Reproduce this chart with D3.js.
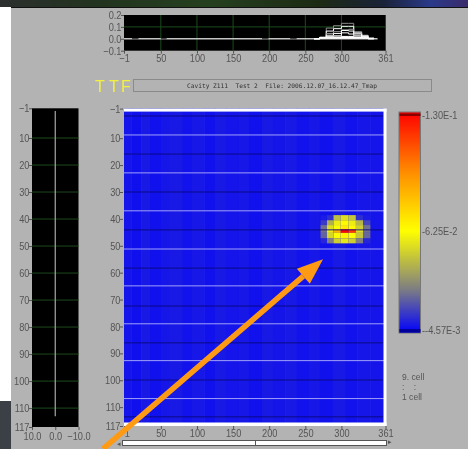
<!DOCTYPE html>
<html><head><meta charset="utf-8">
<script src="https://cdn.jsdelivr.net/npm/d3@7"></script>
<style>
html,body{margin:0;padding:0;background:#fff;overflow:hidden}
svg{display:block;filter:blur(0.45px)}
text{font-family:"Liberation Sans",sans-serif;fill:#555;white-space:pre}
.axis path{display:none}
.axis line{stroke:#555}
.axis text{font-size:11px;fill:#555}
</style></head><body>
<script>
// ---- data ----
const xTicks = [-1, 50, 100, 150, 200, 250, 300, 361];
const yTicks = [-1, 10, 20, 30, 40, 50, 60, 70, 80, 90, 100, 110, 117];
const topYTicks = [0.2, 0.1, 0.0, -0.1];
const sideTicks = [10, 0, -10];
const colorDomain = [0.00457, 0.030, 0.0625, 0.095, 0.130];
const colorRange = ["#0000ff", "#808080", "#ffff00", "#ff9000", "#ff0000"];
const barLabels = [["-1.30E-1", 0.130], ["-6.25E-2", 0.0625], ["--4.57E-3", 0.00457]];
const stripeEdges = [-1,9,23,35,50,62,80,93,110,125,140,158,172,190,205,222,238,255,270,288,305,322,340,361];
const stripeValues = [.0085,.0078,.0095,.0080,.0090,.0096,.0082,.0092,.0080,.0095,.0085,.0092,.0080,.0095,.0088,.0096,.0082,.0092,.0080,.0095,.0082,.0090,.0085];
const spotColEdges = [271, 280, 289, 299, 310, 320, 330, 340];
const spotRowEdges = [38.6, 40.5, 42.3, 43.9, 45.2, 47.3, 49.1];
const spotValues = [
 [.010,.014,.046,.054,.048,.014,.010],
 [.016,.042,.058,.064,.058,.044,.018],
 [.027,.054,.062,.068,.064,.050,.027],
 [.027,.058,.085,.128,.115,.054,.027],
 [.024,.052,.062,.066,.062,.048,.025],
 [.012,.030,.050,.056,.050,.030,.012]
];
const whiteRows = [8.8, 22.9, 37, 51.2, 64.9, 79, 92.7, 106.8];
const blackRows = [1.75, 15.9, 30, 44.1, 58.3, 72.4, 86.1, 99.9, 113.6];
const stepEdges = [262, 270, 279, 289, 300, 310, 317, 328, 337, 345];
const stepSeries = [
 {shade: "#8a8a8a", values: [0, .012, .09, .11, .13, .13, .06, .03, .005]},
 {shade: "#ffffff", values: [0, .012, .065, .085, .105, .105, .05, .025, .005]},
 {shade: "#9a9a9a", values: [0, .010, .045, .06, .075, .08, .045, .02, .005]},
 {shade: "#ffffff", values: [0, .010, .03, .045, .07, .065, .04, .018, .003]},
 {shade: "#ffffff", values: [0, .012, .018, .025, .05, .04, .025, .012, 0]},
 {shade: "#ffffff", values: [0, .010, .012, .015, .02, .02, .015, .008, 0]}
];
const baseGapStarts = [10, 50, 190, 229];
const baseGapEnds = [19, 58, 199, 238];
const cellLabels = ["9. cell", ":    :", "1 cell"];
const titleText = "Cavity Z111  Test 2  File: 2006.12.07_16.12.47_Tmap";
const ttfLetters = ["T", "T", "F"];
const ttfOffsets = [0, 14, 26];
const arrowTail = [-30, 125.5];
const arrowTip = [274.5, 55];

// ---- layout ----
const W = 468, H = 449;
const svg = d3.select("body").append("svg").attr("width", W).attr("height", H);
const defs = svg.append("defs");

const x = d3.scaleLinear().domain([-1, 361]).range([124, 385.5]);
const y = d3.scaleLinear().domain([-1, 117]).range([108.6, 426]);
const yTop = d3.scaleLinear().domain([0.2, -0.1]).range([15, 50.7]);
const ySide = d3.scaleLinear().domain([-1, 117]).range([108.3, 427]);
const xSide = d3.scaleLinear().domain([10, -10]).range([32, 78.5]);
const color = d3.scaleLinear().domain(colorDomain).range(colorRange);
const yBar = d3.scaleLinear().domain([0.00457, 0.130]).range([330, 115]);
const narrow = sel => sel.selectAll("text").attr("transform", "scale(0.84,1)").style("font-size", "11px");

// page backdrop
const g = defs.append("linearGradient").attr("id", "banner");
[[0,"#2c2f2e"],[.2,"#22331f"],[.45,"#25401f"],[.68,"#1c2a14"],[.82,"#1a2238"],[.92,"#2a3a8a"],[1,"#3a2a6a"]]
  .forEach(s => g.append("stop").attr("offset", s[0]).attr("stop-color", s[1]));
svg.append("rect").attr("x", 11).attr("y", 8).attr("width", W - 11).attr("height", H - 8).attr("fill", "#b3b3b3");
svg.append("rect").attr("width", W).attr("height", 7).attr("fill", "url(#banner)");
svg.append("rect").attr("x", 11).attr("y", 7).attr("width", W - 11).attr("height", 1).attr("fill", "#111");
svg.append("rect").attr("x", 0).attr("y", 401).attr("width", 11).attr("height", 48).attr("fill", "#3b4046");

// top strip chart
svg.append("rect").attr("x", x(-1)).attr("y", yTop(.2)).attr("width", x(361) - x(-1)).attr("height", yTop(-.1) - yTop(.2)).attr("fill", "#000");
const grid = "#1c4a1c";
svg.append("g").selectAll("line").data(xTicks.slice(1, -1).concat([361])).join("line")
  .attr("x1", d => x(d)).attr("x2", d => x(d)).attr("y1", yTop(.2)).attr("y2", yTop(-.1)).attr("stroke", grid);
svg.append("g").selectAll("line").data(topYTicks.slice(1, 2)).join("line")
  .attr("x1", x(-1)).attr("x2", x(361)).attr("y1", d => yTop(d)).attr("y2", d => yTop(d)).attr("stroke", grid);
svg.append("line").attr("x1", x(-1)).attr("x2", x(350)).attr("y1", yTop(0)).attr("y2", yTop(0)).attr("stroke", "#c4c4c4").attr("stroke-width", 1.6);
svg.append("g").selectAll("line").data(baseGapStarts).join("line")
  .attr("x1", d => x(d)).attr("x2", (d, i) => x(baseGapEnds[i])).attr("y1", yTop(0)).attr("y2", yTop(0)).attr("stroke", "#444").attr("stroke-width", 1.6);
const stepLine = d3.line().curve(d3.curveStepAfter).x(d => x(d[0])).y(d => yTop(d[1]));
stepSeries.forEach(s => {
  const pts = s.values.map((v, i) => [stepEdges[i], v]).concat([[stepEdges[stepEdges.length - 1], 0]]);
  svg.append("path").attr("d", stepLine(pts)).attr("fill", "none").attr("stroke", s.shade).attr("stroke-width", 1);
});
const lastWhite = stepSeries[stepSeries.length - 1];
svg.append("path").attr("d", d3.area().curve(d3.curveStepAfter).x(d => x(d[0])).y0(yTop(0)).y1(d => yTop(d[1]))(lastWhite.values.map((v, i) => [stepEdges[i], v]).concat([[stepEdges[stepEdges.length - 1], 0]]))).attr("fill", "#fff");

svg.append("g").attr("class", "axis").attr("transform", `translate(0,${yTop(-.1)})`)
  .call(d3.axisBottom(x).tickValues(xTicks).tickSize(3).tickPadding(1).tickFormat(d3.format("d"))).call(narrow);
svg.append("g").attr("class", "axis").attr("transform", `translate(${x(-1)},0)`)
  .call(d3.axisLeft(yTop).tickValues(topYTicks).tickSize(3).tickPadding(0).tickFormat(d3.format(".1f"))).call(narrow);

// title row
svg.append("g").selectAll("text").data(ttfLetters).join("text")
  .attr("x", (d, i) => 100 + ttfOffsets[i]).attr("y", 92).attr("text-anchor", "middle")
  .style("font-family", "'Liberation Sans',sans-serif").style("font-size", "16px").style("fill", "#f4f040").text(d => d);
svg.append("rect").attr("x", 133.5).attr("y", 79.5).attr("width", 298).attr("height", 12)
  .attr("fill", "#b3b3b3").attr("stroke", "#8a8a8a");
svg.append("text").attr("x", 282).attr("y", 87.5).attr("text-anchor", "middle")
  .style("font-family", "'DejaVu Sans Mono',monospace").style("font-size", "6.2px").style("fill", "#333").text(titleText);

// left side panel
svg.append("rect").attr("x", xSide(10)).attr("y", ySide(-1)).attr("width", xSide(-10) - xSide(10)).attr("height", ySide(117) - ySide(-1)).attr("fill", "#000");
svg.append("g").selectAll("line").data(yTicks.slice(1, -1)).join("line")
  .attr("x1", xSide(10)).attr("x2", xSide(-10)).attr("y1", d => ySide(d)).attr("y2", d => ySide(d)).attr("stroke", grid);
svg.append("line").attr("x1", xSide(0)).attr("x2", xSide(0)).attr("y1", ySide(0)).attr("y2", ySide(113)).attr("stroke", "#a8a8a8").attr("stroke-width", 1.2);
svg.append("g").attr("class", "axis").attr("transform", `translate(${xSide(10)},0)`)
  .call(d3.axisLeft(ySide).tickValues(yTicks).tickSize(3).tickPadding(0).tickFormat(d3.format("d"))).call(narrow);
svg.append("g").attr("class", "axis").attr("transform", `translate(0,${ySide(117)})`)
  .call(d3.axisBottom(xSide).tickValues(sideTicks).tickSize(3).tickPadding(2.5).tickFormat(d3.format(".1f"))).call(narrow);

// heat map
const heat = svg.append("g");
heat.selectAll("rect.stripe").data(stripeValues).join("rect").attr("class", "stripe")
  .attr("x", (d, i) => x(stripeEdges[i])).attr("width", (d, i) => x(stripeEdges[i + 1]) - x(stripeEdges[i]) + .5)
  .attr("y", y(-1)).attr("height", y(117) - y(-1)).attr("fill", d => color(d));
spotValues.forEach((row, r) => {
  heat.append("g").selectAll("rect").data(row).join("rect")
    .attr("x", (d, c) => x(spotColEdges[c]))
    .attr("width", (d, c) => x(spotColEdges[c + 1]) - x(spotColEdges[c]))
    .attr("y", y(spotRowEdges[r])).attr("height", y(spotRowEdges[r + 1]) - y(spotRowEdges[r]))
    .attr("fill", d => color(d));
});
heat.append("g").selectAll("line").data(whiteRows).join("line")
  .attr("x1", x(-1)).attr("x2", x(361)).attr("y1", d => y(d)).attr("y2", d => y(d)).attr("stroke", "#a0a0fa").attr("stroke-width", 1);
heat.append("g").selectAll("line").data(blackRows).join("line")
  .attr("x1", x(-1)).attr("x2", x(361)).attr("y1", d => y(d)).attr("y2", d => y(d)).attr("stroke", "#08086a").attr("stroke-width", .8);
// white border slabs: top, bottom, right
svg.append("rect").attr("x", x(-1)).attr("y", y(-1)).attr("width", x(361) - x(-1) + 1).attr("height", 3).attr("fill", "#fff");
svg.append("rect").attr("x", x(-1)).attr("y", y(117) - 3.5).attr("width", x(361) - x(-1) + 1).attr("height", 3.5).attr("fill", "#fff");
svg.append("rect").attr("x", x(361) - 2).attr("y", y(-1)).attr("width", 3).attr("height", y(117) - y(-1)).attr("fill", "#fff");

svg.append("g").attr("class", "axis").attr("transform", `translate(0,${y(117)})`)
  .call(d3.axisBottom(x).tickValues(xTicks).tickSize(3).tickPadding(0).tickFormat(d3.format("d"))).call(narrow);
svg.append("g").attr("class", "axis").attr("transform", `translate(${x(-1) - 1},0)`)
  .call(d3.axisLeft(y).tickValues(yTicks).tickSize(3).tickPadding(0).tickFormat(d3.format("d"))).call(narrow);

// scroll bar under the map
svg.append("rect").attr("x", 122.5).attr("y", 440.5).attr("width", 264).attr("height", 5).attr("fill", "#fff").attr("stroke", "#555");
svg.append("line").attr("x1", 255.5).attr("x2", 255.5).attr("y1", 440).attr("y2", 446).attr("stroke", "#555");
svg.append("text").attr("x", 117).attr("y", 446).style("font-size", "7px").text("◂");
svg.append("text").attr("x", 388).attr("y", 444).style("font-size", "7px").text("▸");

// colour bar
const barDomain = d3.range(0, 1.0001, 0.02).map(t => colorDomain[0] + t * (colorDomain[4] - colorDomain[0]));
const bg = defs.append("linearGradient").attr("id", "bar").attr("x1", 0).attr("x2", 0).attr("y1", 1).attr("y2", 0);
barDomain.forEach((v, i) => bg.append("stop").attr("offset", i / (barDomain.length - 1)).attr("stop-color", color(v)));
svg.append("rect").attr("x", 399).attr("y", yBar(.130) - 3).attr("width", 21.5).attr("height", yBar(.00457) - yBar(.130) + 6).attr("fill", "url(#bar)").attr("stroke", "#777");
svg.append("rect").attr("x", 399.5).attr("y", yBar(.130) - 1.5).attr("width", 21).attr("height", 2.5).attr("fill", "#8a0000");
svg.append("rect").attr("x", 399.5).attr("y", yBar(.00457) - 1).attr("width", 21).attr("height", 3.5).attr("fill", "#00009a");
svg.append("g").selectAll("text").data(barLabels).join("text")
  .attr("transform", d => `translate(422,${yBar(d[1]) + 4}) scale(0.84,1)`).style("font-size", "11px").text(d => d[0]);

// cell labels
svg.append("g").selectAll("text").data(cellLabels).join("text")
  .attr("transform", (d, i) => `translate(402,${380 + i * 10}) scale(0.95,1)`).style("font-size", "9px").text(d => d);

// annotation arrow
const tip = [x(arrowTip[0]), y(arrowTip[1])], tail = [x(arrowTail[0]), y(arrowTail[1])];
const ang = Math.atan2(tip[1] - tail[1], tip[0] - tail[0]);
const headLen = 26, headHalf = 10;
const base = [tip[0] - headLen * Math.cos(ang), tip[1] - headLen * Math.sin(ang)];
svg.append("line").attr("x1", tail[0]).attr("y1", tail[1]).attr("x2", base[0]).attr("y2", base[1])
  .attr("stroke", "#ff9a14").attr("stroke-width", 5.5);
svg.append("path").attr("fill", "#ff9a14").attr("d", d3.line()([
  tip,
  [base[0] + headHalf * Math.sin(ang), base[1] - headHalf * Math.cos(ang)],
  [base[0] - headHalf * Math.sin(ang), base[1] + headHalf * Math.cos(ang)]
]));
</script>
</body></html>
